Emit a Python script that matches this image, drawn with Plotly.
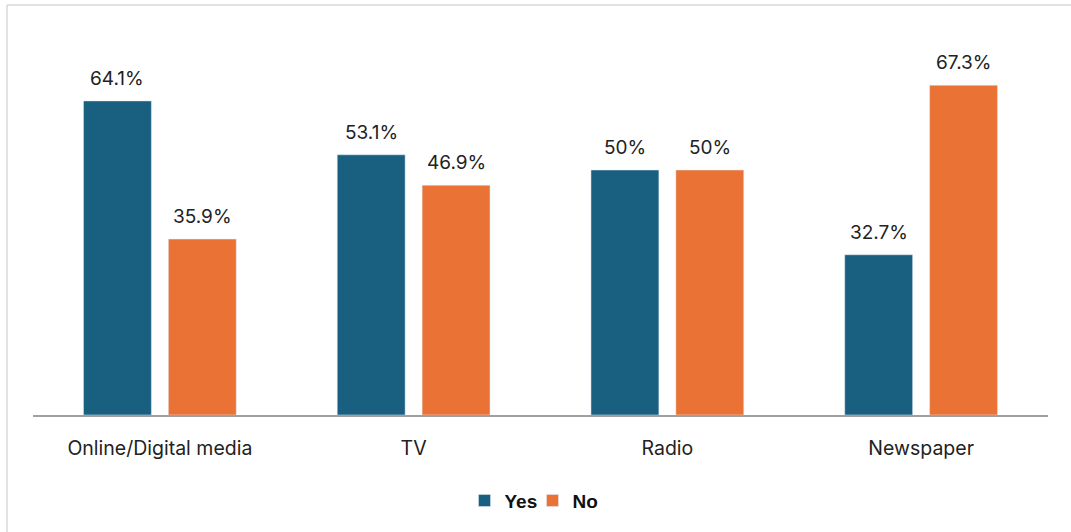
import plotly.graph_objects as go

categories = ["Online/Digital media", "TV", "Radio", "Newspaper"]
yes_values = [64.1, 53.1, 50, 32.7]
no_values = [35.9, 46.9, 50, 67.3]
yes_labels = ["64.1%", "53.1%", "50%", "32.7%"]
no_labels = ["35.9%", "46.9%", "50%", "67.3%"]

BLUE = "#185f80"
ORANGE = "#e97234"
TEXT_FONT = "Inter, Roboto, sans-serif"

W, H = 1071, 532
M_L, M_R, M_T, M_B = 33, 23, 23, 115
plot_w = W - M_L - M_R
plot_h = H - M_T - M_B

fig = go.Figure()
fig.add_trace(go.Bar(name="Yes", x=categories, y=yes_values, marker_color=BLUE))
fig.add_trace(go.Bar(name="No", x=categories, y=no_values, marker_color=ORANGE))

# value labels above each bar, offset to the bar's position within its group
slot_px = plot_w / len(categories) * (1 - 0.331) / 2
for labels, values, sign in ((yes_labels, yes_values, -1), (no_labels, no_values, 1)):
    for cat, lab, val in zip(categories, labels, values):
        fig.add_annotation(
            x=cat, y=val, text=lab, showarrow=False,
            xshift=sign * slot_px / 2, yanchor="bottom", yshift=9,
            font=dict(family=TEXT_FONT, size=19, color="#222222"),
        )

# light frame along the top and left edges
x0 = (7 - M_L) / plot_w
y_top = (H - M_B - 5) / plot_h
fig.add_shape(type="line", xref="paper", yref="paper", x0=x0, x1=(W - M_L + 5) / plot_w,
              y0=y_top, y1=y_top, line=dict(color="#d9d9d9", width=1.5))
fig.add_shape(type="line", xref="paper", yref="paper", x0=x0, x1=x0,
              y0=y_top, y1=-(M_B + 5) / plot_h, line=dict(color="#d9d9d9", width=1.5))

fig.update_layout(
    width=W, height=H,
    margin=dict(l=M_L, r=M_R, t=M_T, b=M_B),
    barmode="group", bargap=0.331, bargroupgap=0.2,
    plot_bgcolor="white", paper_bgcolor="white",
    showlegend=True,
    legend=dict(orientation="h", x=0.5 - 8 / plot_w, xanchor="center", y=-0.17, yanchor="top",
                font=dict(family="Liberation Sans, Arial, sans-serif", size=19, color="#111111",
                          weight="bold"),
                itemwidth=30, entrywidth=23, traceorder="normal"),
    xaxis=dict(showline=True, linecolor="#a0a0a0", linewidth=1.5, ticks="",
               ticklabelstandoff=15,
               tickfont=dict(family=TEXT_FONT, size=19.5, color="#222222"), showgrid=False),
    yaxis=dict(range=[0, 80], visible=False, showgrid=False, zeroline=False),
)

fig.write_html("out.html")
